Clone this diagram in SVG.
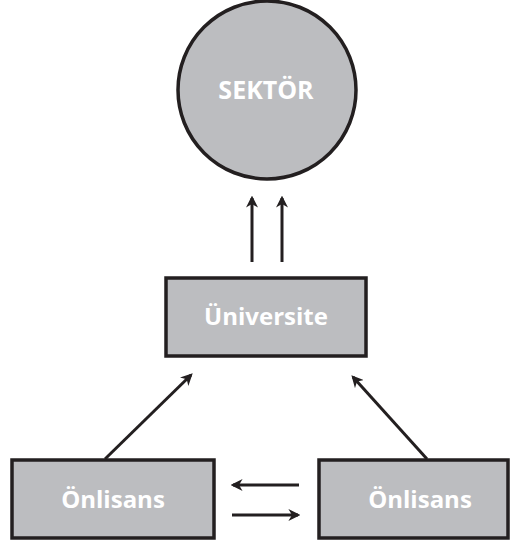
<svg xmlns="http://www.w3.org/2000/svg" width="510" height="544" viewBox="0 0 510 544">
<defs>
<marker id="ah" viewBox="0 0 10 10" refX="8" refY="5" markerWidth="4" markerHeight="4" orient="auto" markerUnits="strokeWidth">
<path d="M0,0 L10,5 L0,10 L3,5 Z" fill="#231f20"/>
</marker>
<style>
.box{fill:#bcbdc0;stroke:#231f20;stroke-width:3.5}
.lbl{fill:#fff;font-family:"Open Sans","Noto Sans",sans-serif;font-weight:bold;text-anchor:middle}
.con{stroke:#231f20;stroke-width:3;fill:none;marker-end:url(#ah)}
</style>
</defs>
<rect width="510" height="544" fill="#fff"/>
<g id="sektor">
<circle class="box" cx="267" cy="90" r="89"/>
<text class="lbl" x="266" y="99" font-size="25">SEKTÖR</text>
</g>
<g id="universite">
<rect class="box" x="166" y="278" width="200" height="78"/>
<text class="lbl" x="266" y="325" font-size="24">Üniversite</text>
</g>
<g id="onlisans1">
<rect class="box" x="12" y="460" width="202" height="78"/>
<text class="lbl" x="113" y="508" font-size="24">Önlisans</text>
</g>
<g id="onlisans2">
<rect class="box" x="319" y="460" width="189" height="78"/>
<text class="lbl" x="420" y="508" font-size="24">Önlisans</text>
</g>
<g id="connectors">
<line class="con" x1="252" y1="262" x2="252" y2="198"/>
<line class="con" x1="282" y1="262" x2="282" y2="198"/>
<line class="con" x1="105" y1="459" x2="191" y2="375"/>
<line class="con" x1="427" y1="459" x2="353" y2="377"/>
<line class="con" x1="299" y1="485" x2="233" y2="485"/>
<line class="con" x1="232" y1="515" x2="298" y2="515"/>
</g>
</svg>
